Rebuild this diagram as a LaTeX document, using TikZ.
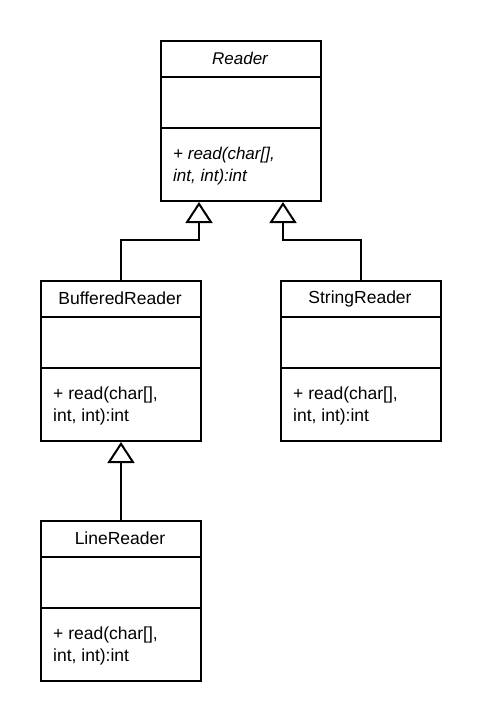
\documentclass[tikz,border=0pt]{standalone}
\usepackage{fontspec}
\setmainfont{Liberation Sans}
\usetikzlibrary{arrows.meta}
\begin{document}
\begin{tikzpicture}[x=1pt,y=-1pt,
  cls/.style={draw, line width=2pt, minimum width=160pt, minimum height=160pt, inner sep=0pt, anchor=north west},
  title/.style={font=\fontsize{17.5}{20}\selectfont, anchor=center, inner sep=0pt},
  meth/.style={font=\fontsize{17.5}{22}\selectfont, align=left, anchor=base west, inner sep=0pt},
  div/.style={line width=2pt},
  inh/.style={line width=2pt, -{Triangle[open, length=21pt, width=27pt]}}]
\useasboundingbox (0,0) rectangle (480,720);
% classes
\node[cls] (reader) at (160,40) {};
\node[cls] (buffered) at (40,280) {};
\node[cls] (string) at (280,280) {};
\node[cls] (line) at (40,520) {};
% compartments
\foreach \c in {reader,buffered,string,line}{
  \draw[div] ([yshift=-37pt]\c.north west) -- ([yshift=-37pt]\c.north east);
  \draw[div] ([yshift=-88pt]\c.north west) -- ([yshift=-88pt]\c.north east);
}
% titles
\node[title, font={\fontsize{17}{20}\selectfont\itshape}] (readername) at (240,58.5) {Reader};
\node[title] (bufferedname) at (120,298.5) {BufferedReader};
\node[title] (stringname) at (360,298.5) {StringReader};
\node[title] (linename) at (120,538.5) {LineReader};
% operations (base anchor = baseline of the last line)
\node[meth, font={\fontsize{17}{22}\selectfont\itshape}] (readerops) at (173,181) {+ read(char[],\\int, int):int};
\node[meth] (bufferedops) at (53,421) {+ read(char[],\\int, int):int};
\node[meth] (stringops) at (293,421) {+ read(char[],\\int, int):int};
\node[meth] (lineops) at (53,661) {+ read(char[],\\int, int):int};
% generalizations
\draw[inh] (buffered.north) -- ++(0,-40) -| ([xshift=-42pt]reader.south);
\draw[inh] (string.north) -- ++(0,-40) -| ([xshift=42pt]reader.south);
\draw[inh] (line.north) -- (buffered.south);
\end{tikzpicture}
\end{document}
